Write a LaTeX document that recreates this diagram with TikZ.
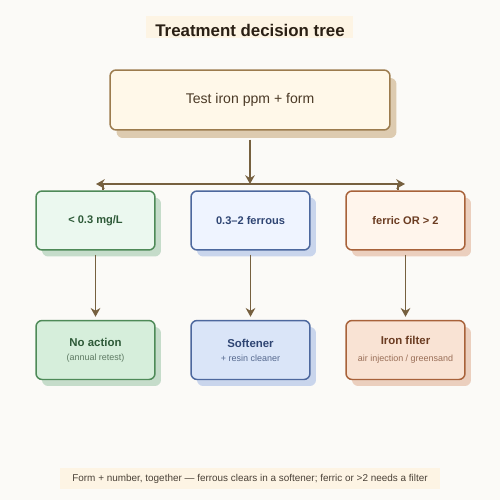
\documentclass[tikz,border=0pt]{standalone}
\usepackage{fontspec}
\setmainfont{Liberation Sans}
\usetikzlibrary{arrows.meta,shadows}

\definecolor{paper}{HTML}{FBFAF7}
\definecolor{band}{HTML}{FDF4E4}
\definecolor{inkc}{HTML}{2A1F14}
\definecolor{linkc}{HTML}{76603F}
\definecolor{rootd}{HTML}{9C7C4E}
\definecolor{rootf}{HTML}{FFF8E9}
\definecolor{roots}{HTML}{DDCBB0}
\definecolor{roott}{HTML}{4B3A26}
\definecolor{grnd}{HTML}{4E8A58}
\definecolor{grnf}{HTML}{EBF8EF}
\definecolor{grnb}{HTML}{D6EEDB}
\definecolor{grns}{HTML}{C5DCCA}
\definecolor{grnt}{HTML}{2E5A38}
\definecolor{grnu}{HTML}{5E7A63}
\definecolor{bled}{HTML}{4D689E}
\definecolor{blef}{HTML}{EFF4FF}
\definecolor{bleb}{HTML}{DAE5F8}
\definecolor{bles}{HTML}{C9D5EC}
\definecolor{blet}{HTML}{2F4573}
\definecolor{bleu}{HTML}{56698F}
\definecolor{orgd}{HTML}{A8623A}
\definecolor{orgf}{HTML}{FFF5EC}
\definecolor{orgb}{HTML}{F9E3D4}
\definecolor{orgs}{HTML}{EBCFBE}
\definecolor{orgt}{HTML}{6B3C22}
\definecolor{orgu}{HTML}{9A6F58}

\newcommand\fsz[1]{\fontsize{#1}{#1}\selectfont}

\tikzset{
  box/.style={draw, rounded corners=3.5pt, line width=0.85pt, minimum width=2.38cm,
    minimum height=1.18cm, inner sep=0pt, align=center},
  shade/.style={drop shadow={shadow xshift=0.12cm, shadow yshift=-0.13cm, fill=#1, opacity=1}},
  link/.style={draw=linkc, line width=0.85pt, -{Stealth[length=5pt,width=5.5pt]}},
  stub/.style={draw=linkc, line width=0.85pt},
}

\begin{document}
\begin{tikzpicture}[x=0.02cm,y=-0.02cm]
\fill[paper] (0,0) rectangle (500,500);

% title and footer
\fill[band] (146,16) rectangle (353,38);
\node (title) at (250,30) {\fsz{9.6}\bfseries\color{inkc}Treatment decision tree};
\fill[band] (60,468) rectangle (440,489);
\node (foot) at (250,479) {\fsz{5.65}\color{inkc!85}Form + number, together — ferrous clears in a softener; ferric or >2 needs a filter};

% root
\node (root) [box, minimum width=5.6cm, minimum height=1.2cm, draw=rootd, fill=rootf,
  drop shadow={shadow xshift=0.13cm, shadow yshift=-0.16cm, fill=roots, opacity=1}]
  at (250,100) {\fsz{8}\color{roott}Test iron ppm + form};

% conditions
\node (lowlvl) [box, draw=grnd, fill=grnf, shade=grns] at (95.5,220.5) {\fsz{6.3}\bfseries\color{grnt}< 0.3 mg/L};
\node (ferrous) [box, draw=bled, fill=blef, shade=bles] at (250.5,220.5) {\fsz{6.3}\bfseries\color{blet}0.3–2 ferrous};
\node (ferric) [box, draw=orgd, fill=orgf, shade=orgs] at (405.5,220.5) {\fsz{6.3}\bfseries\color{orgt}ferric OR > 2};

% outcomes
\node (noact) [box, draw=grnd, fill=grnb, shade=grns] at (95.5,350)
  {\fsz{6.5}\bfseries\color{grnt}No action\\[-4pt]\fsz{5.1}\mdseries\color{grnu}(annual retest)};
\node (soften) [box, draw=bled, fill=bleb, shade=bles] at (250.5,350)
  {\fsz{6.5}\bfseries\color{blet}Softener\\[-4pt]\fsz{5.1}\mdseries\color{bleu}+ resin cleaner};
\node (ironflt) [box, draw=orgd, fill=orgb, shade=orgs] at (405.5,350)
  {\fsz{6.5}\bfseries\color{orgt}Iron filter\\[-2.5pt]\fsz{5.1}\mdseries\color{orgu}air injection / greensand};

% connectors
\coordinate (jc) at (250,184);
\coordinate (jl) at (96,184);
\coordinate (jr) at (405,184);
\coordinate (sl) at (103,184);
\coordinate (sr) at (398,184);
\draw[link, shorten <=0.18cm] (root) -- (jc);
\draw[link] (jc) -- (jl);
\draw[link] (jc) -- (jr);
\draw[stub] (sl) -- (sl |- lowlvl.north);
\draw[stub] (sr) -- (sr |- ferric.north);

\draw[link, shorten <=0.08cm, shorten >=0.06cm] (lowlvl) -- (noact);
\draw[link, shorten <=0.08cm, shorten >=0.06cm] (ferrous) -- (soften);
\draw[link, shorten <=0.08cm, shorten >=0.06cm] (ferric) -- (ironflt);

\end{tikzpicture}
\end{document}
